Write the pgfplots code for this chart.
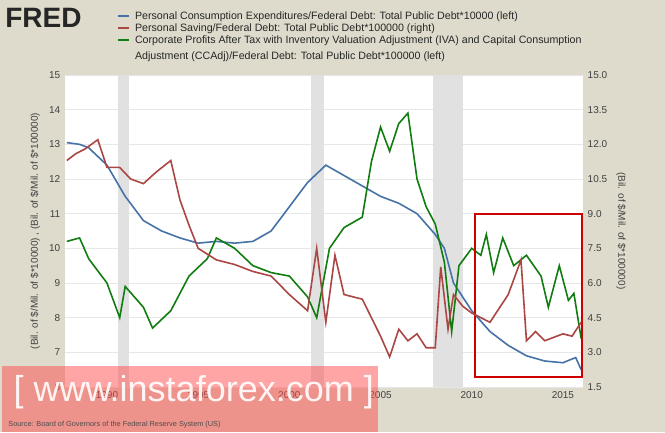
\documentclass[border=0pt]{standalone}
\usepackage{pgfplots}
\pgfplotsset{compat=1.18}
\usepackage{fontspec}
\setmainfont{Liberation Sans}
\definecolor{bg}{RGB}{222,219,204}
\definecolor{pblue}{RGB}{69,114,167}
\definecolor{pred}{RGB}{170,70,67}
\definecolor{pgreen}{RGB}{17,125,17}
\definecolor{rec}{RGB}{225,225,225}
\begin{document}
\begin{tikzpicture}
\fill[bg] (-48.75pt,-33.75pt) rectangle (450pt,290.25pt);
\begin{axis}[at={(0,0)},anchor=south west,scale only axis,width=388.5pt,height=234pt,
 xmin=1987.7,xmax=2016.1,ymin=6,ymax=15,
 axis background/.style={fill=white},axis line style={draw=none},
 tick style={draw=none},xtick={1990,1995,2000,2005,2010,2015},
 x tick label style={/pgf/number format/1000 sep={}},
 ytick={6,7,...,15},ymajorgrids,grid style={draw=rec!80},
 tick label style={font=\fontsize{7.5}{8}\selectfont,text=black!75},
 /pgf/number format/assume math mode=true,
 ylabel={(Bil. of \$/Mil. of \$*10000) , (Bil. of \$/Mil. of \$*100000)},
 ylabel style={font=\fontsize{7.5}{8}\selectfont,text=black!75},clip=false]
\fill[rec] (axis cs:1990.6,6) rectangle (axis cs:1991.2,15);
\fill[rec] (axis cs:2001.2,6) rectangle (axis cs:2001.9,15);
\fill[rec] (axis cs:2007.9,6) rectangle (axis cs:2009.5,15);
\addplot[pblue,line width=1.2pt] coordinates {(1987.8,13.05)(1988.5,13.0)(1989,12.9)(1990,12.4)(1991,11.5)(1992,10.8)(1993,10.5)(1994,10.3)(1995,10.15)(1996,10.2)(1997,10.15)(1998,10.2)(1999,10.5)(2000,11.2)(2001,11.9)(2002,12.4)(2003,12.1)(2004,11.8)(2005,11.5)(2006,11.3)(2007,11.0)(2008,10.4)(2008.5,10.0)(2009,9.0)(2010,8.2)(2011,7.6)(2012,7.2)(2013,6.9)(2014,6.75)(2015,6.7)(2015.7,6.85)(2016,6.5)};
\addplot[pgreen,line width=1.2pt] coordinates {(1987.8,10.2)(1988.5,10.3)(1989,9.7)(1990,9.0)(1990.7,8.0)(1991,8.9)(1992,8.3)(1992.5,7.7)(1993.5,8.2)(1994.5,9.2)(1995.5,9.7)(1996,10.3)(1997,10.0)(1998,9.5)(1999,9.3)(2000,9.2)(2001,8.6)(2001.5,8.0)(2002.2,10.0)(2003,10.6)(2004,10.9)(2004.5,12.5)(2005,13.5)(2005.5,12.8)(2006,13.6)(2006.5,13.9)(2007,12.0)(2007.5,11.2)(2008,10.7)(2008.5,9.6)(2008.9,7.6)(2009.3,9.5)(2010,10.0)(2010.5,9.8)(2010.8,10.4)(2011.2,9.3)(2011.7,10.3)(2012.3,9.5)(2013,9.8)(2013.8,9.2)(2014.2,8.3)(2014.8,9.5)(2015.3,8.5)(2015.6,8.7)(2016,7.4)};
\draw[red!80!black,line width=1.5pt] (axis cs:2010.2,11.0) rectangle (axis cs:2016.05,6.3);
\end{axis}
\begin{axis}[at={(0,0)},anchor=south west,scale only axis,width=388.5pt,height=234pt,
 xmin=1987.7,xmax=2016.1,ymin=1.5,ymax=15,axis y line*=right,axis x line=none,
 axis line style={draw=none},tick style={draw=none},ytick={1.5,3,...,15},
 yticklabel style={/pgf/number format/.cd,fixed,fixed zerofill,precision=1},
 tick label style={font=\fontsize{7.5}{8}\selectfont,text=black!75},
 /pgf/number format/assume math mode=true,
 ylabel={(Bil. of \$/Mil. of \$*100000)},
 ylabel style={font=\fontsize{7.5}{8}\selectfont,text=black!75,rotate=180}]
\addplot[pred,line width=1.2pt] coordinates {(1987.8,11.3)(1988.3,11.6)(1988.8,11.8)(1989.5,12.2)(1990,11.0)(1990.7,11.0)(1991.3,10.5)(1992,10.3)(1992.7,10.8)(1993.5,11.3)(1994,9.6)(1994.5,8.5)(1995,7.5)(1996,7.0)(1997,6.8)(1998,6.5)(1999,6.3)(2000,5.5)(2001,4.8)(2001.5,7.5)(2002,4.3)(2002.5,7.2)(2003,5.5)(2004,5.3)(2004.5,4.5)(2005,3.7)(2005.5,2.8)(2006,4.0)(2006.5,3.5)(2007,3.8)(2007.5,3.2)(2008,3.2)(2008.3,6.7)(2008.7,4.0)(2009,5.5)(2009.5,5.0)(2010,4.7)(2011,4.3)(2012,5.5)(2012.7,7.0)(2013,3.5)(2013.5,3.9)(2014,3.5)(2015,3.8)(2015.5,3.7)(2016,4.3)};
\end{axis}
\node[anchor=west,font=\bfseries\fontsize{21}{22}\selectfont,text=black!85,inner sep=0pt] at (-45pt,277pt) {FRED};
\begin{scope}[font=\fontsize{8}{9}\selectfont]
\draw[pblue,line width=1.3pt] (40pt,278pt)--(48pt,278pt); \node[anchor=west,text=black!85] at (49pt,278pt) {Personal Consumption Expenditures/Federal Debt: Total Public Debt*10000 (left)};
\draw[pred,line width=1.3pt] (40pt,269pt)--(48pt,269pt); \node[anchor=west,text=black!85] at (49pt,269pt) {Personal Saving/Federal Debt: Total Public Debt*100000 (right)};
\draw[pgreen,line width=1.3pt] (40pt,260pt)--(48pt,260pt); \node[anchor=west,text=black!85] at (49pt,260pt) {Corporate Profits After Tax with Inventory Valuation Adjustment (IVA) and Capital Consumption};
\node[anchor=west,text=black!85] at (49pt,248pt) {Adjustment (CCAdj)/Federal Debt: Total Public Debt*100000 (left)};
\end{scope}
\fill[red!70,opacity=0.5] (-47pt,-33.75pt) rectangle (235pt,15.75pt);
\node[anchor=west,text=white,opacity=0.9,font=\fontsize{27}{28}\selectfont] at (-42pt,-4pt) {[ www.instaforex.com ]};
\node[anchor=west,font=\fontsize{5.5}{6}\selectfont,text=black!70] at (-46pt,-28pt) {Source: Board of Governors of the Federal Reserve System (US)};
\end{tikzpicture}
\end{document}
